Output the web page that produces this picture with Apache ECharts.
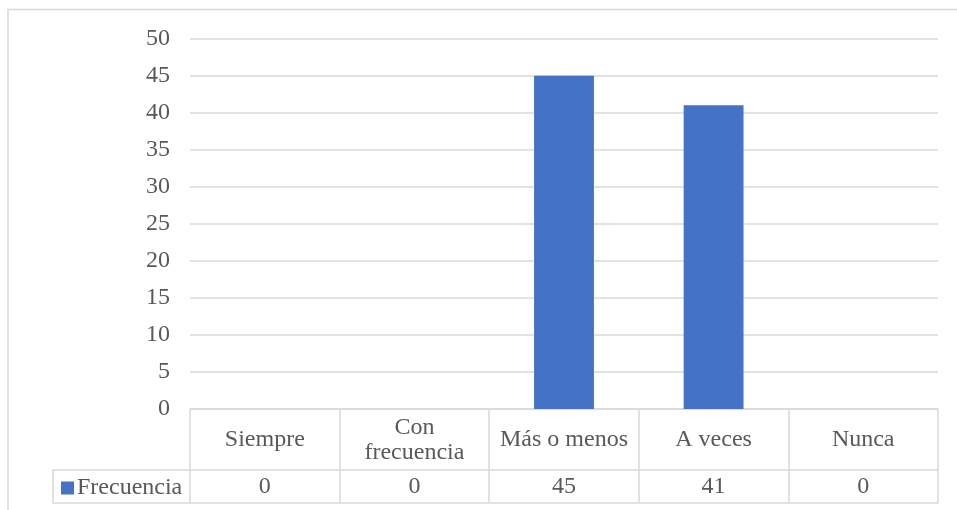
<!DOCTYPE html>
<html>
<head>
<meta charset="utf-8">
<script src="https://cdn.jsdelivr.net/npm/echarts@6/dist/echarts.min.js"></script>
<style>
  html, body { margin: 0; padding: 0; background: #fff; }
  #chart { width: 957px; height: 510px; }
</style>
</head>
<body>
<div id="chart"></div>
<script>
// Respuestas por categoría
const categories = ['Siempre', 'Con\nfrecuencia', 'Más o menos', 'A veces', 'Nunca'];
const frecuencia = [0, 0, 45, 41, 0];
const seriesName = 'Frecuencia';

const FONT = '"Liberation Serif", "Times New Roman", serif';
const TEXT = '#595959';
const LINE = '#d9d9d9';
const FS = 24;

const chart = echarts.init(document.getElementById('chart'), null, { renderer: 'canvas' });

chart.setOption({
  animation: false,
  backgroundColor: '#ffffff',
  textStyle: { fontFamily: FONT },
  grid: { left: 190, right: 19, top: 38.6, bottom: 101, containLabel: false },
  legend: {
    data: [seriesName],
    left: 56, top: 471,
    icon: 'rect', itemWidth: 13, itemHeight: 13, itemGap: 0,
    textStyle: { color: TEXT, fontFamily: FONT, fontSize: FS, padding: [0, 0, 0, -2] },
    selectedMode: false
  },
  xAxis: [
    {
      // fila de categorías de la tabla de datos
      type: 'category',
      data: categories,
      position: 'bottom',
      axisLine: { show: true, lineStyle: { color: LINE, width: 1.5 } },
      axisTick: { show: true, interval: 0, length: 94, lineStyle: { color: LINE, width: 1.5 } },
      axisLabel: {
        interval: 0, color: TEXT, fontFamily: FONT, fontSize: FS,
        lineHeight: 25, verticalAlign: 'middle', margin: 31
      }
    },
    {
      // fila de valores
      type: 'category',
      data: categories,
      position: 'bottom',
      offset: 61,
      axisLine: { show: true, lineStyle: { color: LINE, width: 1.5 } },
      axisTick: { show: false },
      axisLabel: {
        interval: 0, color: TEXT, fontFamily: FONT, fontSize: FS,
        verticalAlign: 'middle', margin: 17,
        formatter: (v, i) => String(frecuencia[i])
      }
    },
    {
      // borde inferior de la tabla
      type: 'category',
      data: categories,
      position: 'bottom',
      offset: 94,
      axisLine: { show: true, lineStyle: { color: LINE, width: 1.5 } },
      axisTick: { show: false },
      axisLabel: { show: false }
    }
  ],
  yAxis: {
    type: 'value',
    min: 0, max: 50, interval: 5,
    axisLine: { show: false },
    axisTick: { show: false },
    axisLabel: { color: TEXT, fontFamily: FONT, fontSize: FS, margin: 20 },
    splitLine: { lineStyle: { color: LINE, width: 1.5 } }
  },
  series: [{
    name: seriesName,
    type: 'bar',
    data: frecuencia,
    barWidth: '40%',
    itemStyle: { color: '#4472C4' }
  }],
  graphic: [
    {
      // marco exterior del gráfico
      type: 'polyline',
      shape: { points: [[8, 510], [8, 9.5], [957, 9.5]] },
      style: { stroke: LINE, lineWidth: 1.5, fill: null },
      silent: true
    },
    {
      // celda de la leyenda en la tabla
      type: 'polyline',
      shape: { points: [[190, 470], [53, 470], [53, 503], [190, 503]] },
      style: { stroke: LINE, lineWidth: 1.5, fill: null },
      silent: true
    }
  ]
});
</script>
</body>
</html>
